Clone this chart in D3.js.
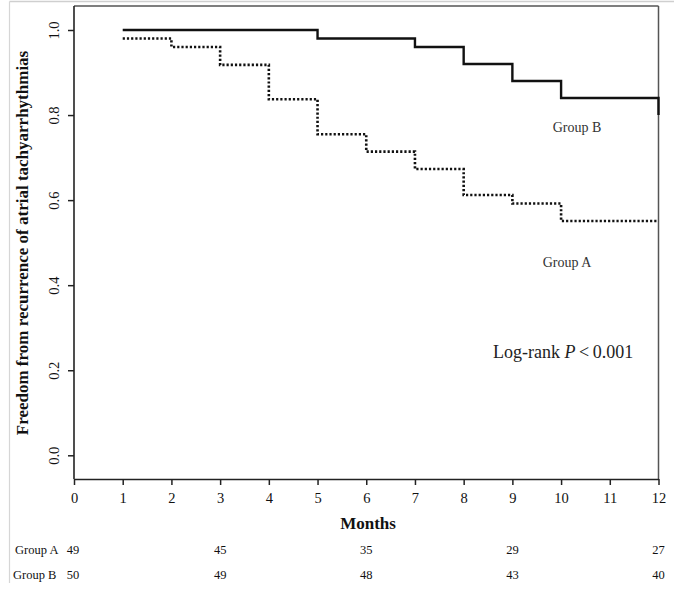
<!DOCTYPE html>
<html><head><meta charset="utf-8">
<script src="https://cdn.jsdelivr.net/npm/d3@7"></script>
<style>body{margin:0;background:#fff}svg{display:block}</style>
</head><body>
<script>
const monthTicks = [0,1,2,3,4,5,6,7,8,9,10,11,12];
const yTicks = [0.0,0.2,0.4,0.6,0.8,1.0];
const groupBTimes = [1,5,7,8,9,10,12];
const groupBSurv  = [1.0,0.98,0.96,0.92,0.88,0.84,0.80];
const groupATimes = [1,2,3,4,5,6,7,8,9,10,12];
const groupASurv  = [0.98,0.96,0.918,0.837,0.755,0.714,0.673,0.612,0.592,0.551,0.551];
const riskTimes = [0,3,6,9,12];
const riskA = [49,45,35,29,27];
const riskB = [50,49,48,43,40];

const W=674,H=599;
const svg=d3.select("body").append("svg").attr("width",W).attr("height",H);
const font="'Liberation Serif','Times New Roman',serif";

// outer faint frame
svg.append("line").attr("x1",9.5).attr("x2",674).attr("y1",1.5).attr("y2",1.5).attr("stroke","#cfcfcf").attr("stroke-width",1.5);
svg.append("line").attr("x1",9.5).attr("x2",9.5).attr("y1",1.5).attr("y2",583).attr("stroke","#d6d6d6").attr("stroke-width",1.2);

const x=d3.scaleLinear().domain([0,12]).range([74,658.5]);
const y=d3.scaleLinear().domain([0,1]).range([455.3,30]);
const yBottom=479, yTop=6;

// box
svg.append("line").attr("x1",74).attr("x2",658.5).attr("y1",yTop).attr("y2",yTop).attr("stroke","#555").attr("stroke-width",1.5);
svg.append("line").attr("x1",658.5).attr("x2",658.5).attr("y1",yTop).attr("y2",yBottom).attr("stroke","#555").attr("stroke-width",1.5);

// x axis
const gx=svg.append("g").attr("transform",`translate(0,${yBottom})`)
  .call(d3.axisBottom(x).tickValues(monthTicks).tickSize(6).tickPadding(8).tickSizeOuter(0));
gx.select(".domain").attr("stroke","#222").attr("stroke-width",1.6);
gx.selectAll(".tick line").attr("stroke","#222").attr("stroke-width",1.5);
gx.selectAll("text").attr("font-family",font).attr("font-size",14.5).attr("fill","#111");

// y axis
const gy=svg.append("g").attr("transform",`translate(74,0)`)
  .call(d3.axisLeft(y).tickValues(yTicks).tickFormat(d3.format(".1f")).tickSize(6).tickSizeOuter(0));
gy.select(".domain").attr("d",`M0,${yTop}V${yBottom}`).attr("stroke","#222").attr("stroke-width",1.6);
gy.selectAll(".tick line").attr("stroke","#222").attr("stroke-width",1.5);
gy.selectAll(".tick text").attr("font-family",font).attr("font-size",14.5).attr("fill","#111")
  .attr("x",null).attr("dy",null).attr("text-anchor","middle")
  .attr("transform","translate(-20,0) rotate(-90)").attr("dominant-baseline","central");

// titles
svg.append("text").attr("transform","translate(22,243) rotate(-90)").attr("text-anchor","middle")
  .attr("dominant-baseline","central").attr("font-family",font).attr("font-weight","bold").attr("font-size",17)
  .attr("fill","#111").text("Freedom from recurrence of atrial tachyarrhythmias");
svg.append("text").attr("x",368).attr("y",529).attr("text-anchor","middle").attr("font-family",font)
  .attr("font-weight","bold").attr("font-size",17).attr("fill","#111").text("Months");

// curves
function stepPts(ts,vs){ return ts.map((t,i)=>[t,vs[i]]); }
const line=d3.line().x(d=>x(d[0])).y(d=>y(d[1])).curve(d3.curveStepAfter);
svg.append("path").attr("d",line(stepPts(groupBTimes,groupBSurv))).attr("fill","none")
  .attr("stroke","#111").attr("stroke-width",2.4);
svg.append("path").attr("d",line(stepPts(groupATimes,groupASurv))).attr("fill","none")
  .attr("stroke","#111").attr("stroke-width",2.6).attr("stroke-dasharray","2.2,2");

// annotations
svg.append("text").attr("x",577).attr("y",132).attr("text-anchor","middle").attr("font-family",font)
  .attr("font-size",14).attr("fill","#333").text("Group B");
svg.append("text").attr("x",567).attr("y",267).attr("text-anchor","middle").attr("font-family",font)
  .attr("font-size",14).attr("fill","#333").text("Group A");
const lr=svg.append("text").attr("x",493).attr("y",358).attr("font-family",font).attr("font-size",18).attr("fill","#222");
lr.append("tspan").text("Log-rank ");
lr.append("tspan").attr("font-style","italic").text("P");
lr.append("tspan").text("\u2009<\u20090.001");

// number at risk
const riskRows=[["Group A",riskA,554],["Group B",riskB,579]];
riskRows.forEach(([lab,vals,yy],k)=>{
  svg.append("text").attr("x",k===0?15:13).attr("y",yy).attr("font-family",font).attr("font-size",12.5)
    .attr("fill","#111").text(lab);
  svg.selectAll(null).data(vals).enter().append("text")
    .attr("x",(d,i)=>x(riskTimes[i])-(i===0?1:0)).attr("y",yy).attr("text-anchor","middle")
    .attr("font-family",font).attr("font-size",12.5).attr("fill","#111").text(d=>d);
});
</script>
</body></html>
